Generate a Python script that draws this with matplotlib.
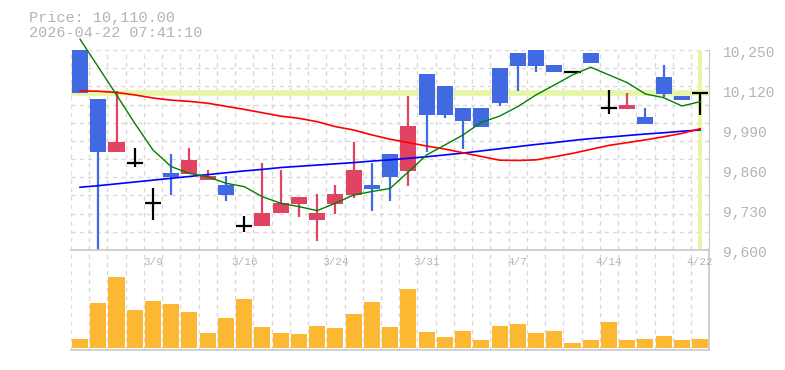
import matplotlib
matplotlib.use("Agg")
import matplotlib.pyplot as plt
import matplotlib.transforms as mtransforms
import numpy as np

# ---- data ----
opens  = [10250, 10091, 9920, 9882, 9752, 9849, 9847, 9827, 9811, 9679, 9679, 9719, 9751, 9697, 9750,
          9779, 9811, 9912, 9858, 10172, 10133, 10061, 10061, 10191, 10240, 10250, 10201, 10180, 10240,
          10060, 10059, 10031, 10162, 10100, 10110]
closes = [10110, 9920, 9951, 9882, 9752, 9836, 9892, 9841, 9780, 9679, 9720, 9753, 9772, 9720, 9782,
          9860, 9798, 9837, 10003, 10040, 10040, 10020, 10001, 10079, 10199, 10199, 10178, 10180, 10209,
          10060, 10070, 10010, 10108, 10088, 10110]
highs  = [10250, 10091, 10117, 9930, 9800, 9912, 9933, 9860, 9840, 9710, 9884, 9860, 9772, 9782, 9811,
          9951, 9884, 9912, 10100, 10172, 10133, 10061, 10061, 10191, 10240, 10250, 10201, 10180, 10240,
          10120, 10110, 10060, 10201, 10100, 10110]
lows   = [10110, 9598, 9920, 9871, 9697, 9779, 9847, 9827, 9760, 9660, 9679, 9719, 9708, 9630, 9718,
          9770, 9727, 9760, 9809, 9918, 10030, 9928, 10001, 10069, 10117, 10178, 10178, 10180, 10209,
          10041, 10059, 10010, 10098, 10088, 10040]
volumes = [9000, 45000, 71000, 38000, 47000, 44000, 36000, 15000, 30000, 49000, 21000, 15000, 14000,
           22000, 20000, 34000, 46000, 21000, 59000, 16000, 11000, 17000, 8000, 22000, 24000, 15000,
           17000, 5000, 8000, 26000, 8000, 9000, 12000, 8000, 9000]
ma_short = [10285, 10195, 10104, 10012, 9925, 9871, 9849, 9838, 9817, 9806, 9773, 9752, 9741, 9728, 9752,
            9779, 9790, 9800, 9854, 9909, 9941, 9974, 10015, 10035, 10066, 10104, 10136, 10169, 10194,
            10169, 10144, 10107, 10095, 10068, 10082]
ma_mid = [10117, 10116, 10112, 10104, 10094, 10087, 10083, 10077, 10067, 10057, 10046, 10035, 10028, 10017,
          10001, 9990, 9974, 9960, 9949, 9938, 9928, 9916, 9904, 9892, 9891, 9893, 9903, 9914, 9927,
          9940, 9949, 9958, 9968, 9979, 9994]
ma_long = [9804, 9809, 9815, 9821, 9827, 9833, 9839, 9845, 9851, 9857, 9862, 9868, 9872, 9876, 9880,
           9884, 9889, 9893, 9898, 9903, 9909, 9915, 9922, 9929, 9936, 9943, 9949, 9956, 9962, 9967,
           9972, 9977, 9981, 9986, 9990]
date_pos = [4, 9, 14, 19, 24, 29, 34]
date_labels = ["3/9", "3/16", "3/24", "3/31", "4/7", "4/14", "4/22"]
price_ticks = [9600, 9730, 9860, 9990, 10120, 10250]
last_price = 10110
title_lines = ["Price: 10,110.00", "2026-04-22 07:41:10"]

# ---- style ----
FONT = "Liberation Mono"
TXT = "#b4b4b4"
GRID = "#d9d9d9"
UP = "#e04462"
DOWN = "#4169e1"
VOLC = "#fdb833"
HL = "#e6f5a6"

W, H = 785, 370
fig = plt.figure(figsize=(W / 100, H / 100), dpi=100)
xl, xr = 70.9, 709.3
axp = fig.add_axes([xl / W, (H - 250) / H, (xr - xl) / W, 200 / H])
axv = fig.add_axes([xl / W, (H - 350) / H, (xr - xl) / W, 100 / H])

n = len(opens)
idx = np.arange(n)
for ax in (axp, axv):
    ax.set_xlim(-0.5, n - 0.5)
    ax.set_facecolor("white")
    for b in np.arange(-0.5, n, 1.0):
        ax.axvline(b, color=GRID, lw=1, ls=(0, (3, 3)), zorder=0)
    ax.set_xticks([])
    for s in ax.spines.values():
        s.set_visible(False)

# price panel
axp.set_ylim(9600, 10250)
for yv in np.linspace(9600, 10250, 12):
    axp.axhline(yv, color=GRID, lw=1, ls=(0, (3, 3)), zorder=0)
axp.spines["right"].set_visible(True)
axp.spines["right"].set_color("#c8c8c8")
axp.yaxis.tick_right()
axp.set_yticks(price_ticks)
axp.set_yticklabels([f"{v:,}" for v in price_ticks], fontfamily=FONT, fontsize=10.5, color=TXT)
axp.tick_params(axis="y", length=0, pad=10)
for lab in axp.get_yticklabels():
    lab.set_va("center")
    lab.set_transform(lab.get_transform() + mtransforms.ScaledTranslation(0, -2.0 / 72, fig.dpi_scale_trans))

# highlight lines
axp.axhline(last_price, color=HL, lw=4, zorder=1)
axp.axvline(idx[-1], color=HL, lw=3, zorder=1)

bw = 0.88
for i in range(n):
    o, c, h, l = opens[i], closes[i], highs[i], lows[i]
    if c > o:
        col = UP
    elif c < o:
        col = DOWN
    else:
        col = "black"
    if h > l:
        axp.vlines(i, l, h, color=col, lw=1.6, zorder=3)
    if c != o:
        axp.bar(i, c - o, bottom=o, width=bw, color=col, zorder=4, linewidth=0)
    else:
        axp.hlines(o, i - bw / 2, i + bw / 2, color="black", lw=1.6, zorder=4)

axp.plot(idx, ma_long, color="#0000ff", lw=1.2, zorder=5)
axp.plot(idx, ma_mid, color="#ff0000", lw=1.2, zorder=5)
axp.plot(idx, ma_short, color="#008000", lw=1.0, zorder=5, clip_on=False)

# volume panel
axv.set_ylim(-2300, 97700)
axv.set_yticks([])
for s in ("top", "bottom", "right"):
    axv.spines[s].set_visible(True)
    axv.spines[s].set_color("#c8c8c8")
    axv.spines[s].set_linewidth(1.2)
axv.bar(idx, volumes, width=bw, color=VOLC, zorder=3, linewidth=0)
trans = mtransforms.blended_transform_factory(axv.transData, axv.transAxes)
for p, t in zip(date_pos, date_labels):
    axv.text(p, 0.88, t, transform=trans, ha="center", va="center",
             fontfamily=FONT, fontsize=8, color=TXT, zorder=6)

fig.text(29 / W, 1 - 18 / H, title_lines[0], fontfamily=FONT, fontsize=11, color=TXT, va="center", ha="left")
fig.text(29 / W, 1 - 33 / H, title_lines[1], fontfamily=FONT, fontsize=11, color=TXT, va="center", ha="left")

fig.savefig("out.png", dpi=100)
